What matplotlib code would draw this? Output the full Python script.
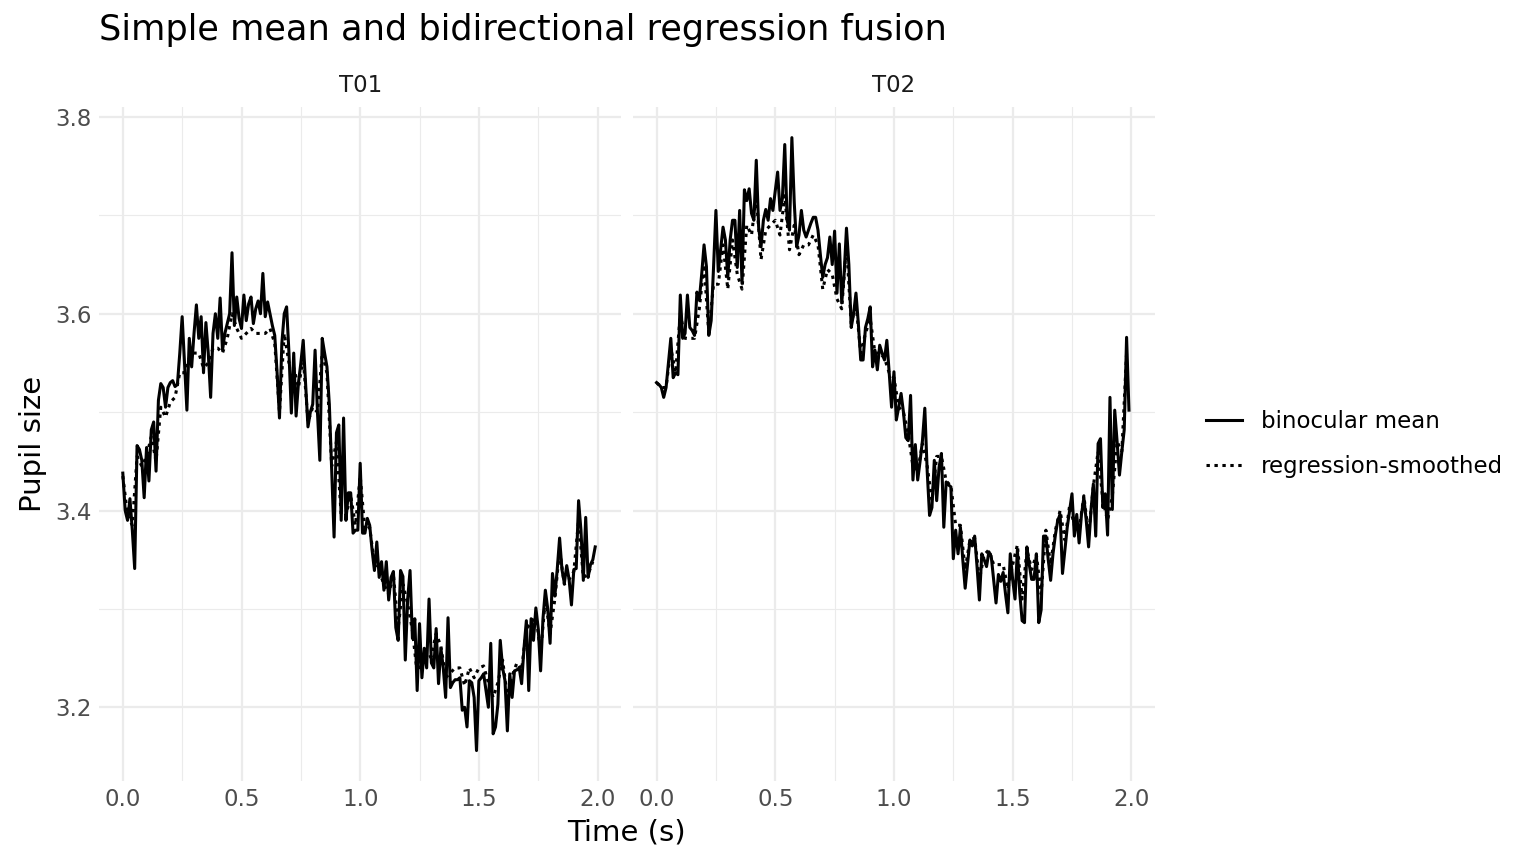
import numpy as np
import matplotlib
matplotlib.use("Agg")
import matplotlib.pyplot as plt
from matplotlib.lines import Line2D
from matplotlib.ticker import MultipleLocator, FormatStrFormatter

# time axis, 100 Hz for the mean, 50 Hz for the smoothed trace
time_mean = np.arange(200) / 100
time_smooth = np.arange(100) / 50

t01_mean = [
    3.438, 3.400, 3.390, 3.412, 3.380, 3.341, 3.466, 3.462, 3.451, 3.413,
    3.464, 3.430, 3.482, 3.490, 3.440, 3.512, 3.529, 3.525, 3.505, 3.525,
    3.530, 3.532, 3.526, 3.528, 3.560, 3.597, 3.550, 3.502, 3.575, 3.546,
    3.580, 3.609, 3.575, 3.597, 3.540, 3.591, 3.560, 3.515, 3.580, 3.600,
    3.575, 3.616, 3.563, 3.580, 3.590, 3.600, 3.662, 3.588, 3.617, 3.595,
    3.585, 3.619, 3.593, 3.610, 3.617, 3.590, 3.605, 3.613, 3.600, 3.641,
    3.597, 3.612, 3.600, 3.588, 3.578, 3.540, 3.494, 3.570, 3.600, 3.607,
    3.560, 3.499, 3.560, 3.496, 3.530, 3.550, 3.573, 3.530, 3.485, 3.500,
    3.508, 3.563, 3.500, 3.451, 3.575, 3.560, 3.546, 3.508, 3.440, 3.373,
    3.479, 3.487, 3.390, 3.494, 3.390, 3.418, 3.418, 3.377, 3.380, 3.380,
    3.448, 3.377, 3.377, 3.392, 3.385, 3.360, 3.339, 3.368, 3.332, 3.348,
    3.319, 3.348, 3.309, 3.332, 3.338, 3.281, 3.268, 3.339, 3.333, 3.248,
    3.310, 3.339, 3.270, 3.290, 3.217, 3.285, 3.230, 3.260, 3.240, 3.310,
    3.245, 3.240, 3.280, 3.224, 3.260, 3.240, 3.210, 3.291, 3.220, 3.225,
    3.228, 3.228, 3.230, 3.197, 3.200, 3.180, 3.227, 3.225, 3.210, 3.156,
    3.227, 3.230, 3.234, 3.217, 3.200, 3.265, 3.173, 3.180, 3.203, 3.268,
    3.240, 3.227, 3.176, 3.234, 3.210, 3.237, 3.238, 3.240, 3.224, 3.260,
    3.288, 3.217, 3.290, 3.268, 3.301, 3.280, 3.237, 3.290, 3.319, 3.300,
    3.265, 3.336, 3.313, 3.340, 3.372, 3.340, 3.326, 3.344, 3.330, 3.304,
    3.340, 3.341, 3.410, 3.380, 3.329, 3.393, 3.332, 3.345, 3.350, 3.363,
]

t01_smooth = [
    3.435, 3.395, 3.385, 3.455, 3.445, 3.455, 3.475, 3.450, 3.505, 3.495,
    3.510, 3.515, 3.540, 3.540, 3.555, 3.560, 3.560, 3.545, 3.550, 3.565,
    3.565, 3.560, 3.575, 3.600, 3.585, 3.575, 3.580, 3.585, 3.580, 3.580,
    3.580, 3.585, 3.570, 3.500, 3.580, 3.550, 3.545, 3.525, 3.555, 3.490,
    3.505, 3.500, 3.560, 3.540, 3.445, 3.470, 3.395, 3.395, 3.415, 3.385,
    3.435, 3.380, 3.383, 3.345, 3.338, 3.325, 3.315, 3.335, 3.280, 3.325,
    3.305, 3.278, 3.235, 3.245, 3.250, 3.252, 3.275, 3.262, 3.230, 3.235,
    3.240, 3.240, 3.222, 3.240, 3.230, 3.240, 3.242, 3.225, 3.210, 3.225,
    3.248, 3.210, 3.232, 3.245, 3.238, 3.280, 3.285, 3.295, 3.255, 3.310,
    3.275, 3.310, 3.360, 3.325, 3.330, 3.338, 3.390, 3.332, 3.335, 3.348,
]

t02_mean = [
    3.530, 3.528, 3.525, 3.515, 3.525, 3.550, 3.575, 3.535, 3.540, 3.538,
    3.619, 3.575, 3.580, 3.619, 3.586, 3.583, 3.578, 3.622, 3.614, 3.640,
    3.670, 3.648, 3.578, 3.593, 3.647, 3.705, 3.643, 3.665, 3.688, 3.675,
    3.637, 3.675, 3.695, 3.695, 3.647, 3.705, 3.631, 3.726, 3.715, 3.727,
    3.702, 3.695, 3.756, 3.688, 3.668, 3.695, 3.706, 3.695, 3.717, 3.705,
    3.725, 3.744, 3.705, 3.717, 3.772, 3.695, 3.685, 3.779, 3.713, 3.668,
    3.680, 3.705, 3.685, 3.678, 3.685, 3.692, 3.698, 3.698, 3.685, 3.660,
    3.637, 3.650, 3.657, 3.678, 3.650, 3.684, 3.621, 3.671, 3.611, 3.640,
    3.687, 3.650, 3.586, 3.600, 3.621, 3.590, 3.553, 3.553, 3.586, 3.595,
    3.607, 3.546, 3.563, 3.543, 3.568, 3.560, 3.553, 3.573, 3.540, 3.505,
    3.541, 3.492, 3.505, 3.519, 3.500, 3.474, 3.471, 3.517, 3.431, 3.467,
    3.431, 3.450, 3.471, 3.504, 3.440, 3.395, 3.403, 3.451, 3.410, 3.444,
    3.458, 3.383, 3.429, 3.426, 3.424, 3.351, 3.380, 3.356, 3.383, 3.350,
    3.321, 3.345, 3.370, 3.364, 3.374, 3.343, 3.309, 3.356, 3.350, 3.343,
    3.358, 3.353, 3.330, 3.306, 3.335, 3.328, 3.337, 3.315, 3.296, 3.356,
    3.330, 3.310, 3.360, 3.316, 3.288, 3.286, 3.363, 3.345, 3.330, 3.330,
    3.356, 3.286, 3.299, 3.374, 3.374, 3.350, 3.329, 3.356, 3.375, 3.390,
    3.396, 3.336, 3.360, 3.383, 3.400, 3.417, 3.374, 3.396, 3.367, 3.396,
    3.413, 3.390, 3.363, 3.400, 3.427, 3.374, 3.468, 3.473, 3.403, 3.417,
    3.375, 3.515, 3.401, 3.502, 3.470, 3.436, 3.460, 3.482, 3.576, 3.502,
]

t02_smooth = [
    3.530, 3.525, 3.525, 3.565, 3.540, 3.600, 3.575, 3.575, 3.575, 3.605,
    3.650, 3.580, 3.630, 3.630, 3.670, 3.625, 3.675, 3.640, 3.625, 3.690,
    3.680, 3.720, 3.655, 3.685, 3.690, 3.695, 3.680, 3.720, 3.665, 3.690,
    3.660, 3.670, 3.670, 3.680, 3.670, 3.625, 3.645, 3.640, 3.615, 3.605,
    3.670, 3.590, 3.610, 3.560, 3.580, 3.595, 3.560, 3.560, 3.555, 3.540,
    3.535, 3.505, 3.500, 3.478, 3.445, 3.440, 3.468, 3.445, 3.410, 3.455,
    3.455, 3.430, 3.425, 3.385, 3.385, 3.340, 3.370, 3.372, 3.330, 3.355,
    3.360, 3.345, 3.345, 3.345, 3.320, 3.345, 3.365, 3.310, 3.360, 3.340,
    3.355, 3.315, 3.380, 3.345, 3.380, 3.400, 3.370, 3.405, 3.385, 3.380,
    3.415, 3.375, 3.425, 3.460, 3.410, 3.390, 3.415, 3.470, 3.460, 3.560,
]

panels = ["T01", "T02"]
mean_series = [t01_mean, t02_mean]
smooth_series = [t01_smooth, t02_smooth]

plt.rcParams["font.family"] = ["DejaVu Sans"]

fig = plt.figure(figsize=(15.36, 8.64), dpi=100)
ax1 = fig.add_axes([0.0645, 0.096, 0.340, 0.780])
ax2 = fig.add_axes([0.412, 0.096, 0.340, 0.780], sharey=ax1)

dot_style = dict(linestyle=(0, (1.1, 1.5)), color="black", linewidth=2.2)
for ax, name, m, s in zip([ax1, ax2], panels, mean_series, smooth_series):
    ax.plot(time_smooth, s, **dot_style)
    ax.plot(time_mean, m, color="black", linewidth=2.2)
    ax.set_xlim(-0.1, 2.1)
    ax.set_ylim(3.125, 3.81)
    ax.xaxis.set_major_locator(MultipleLocator(0.5))
    ax.xaxis.set_minor_locator(MultipleLocator(0.25))
    ax.yaxis.set_major_locator(MultipleLocator(0.2))
    ax.yaxis.set_minor_locator(MultipleLocator(0.1))
    ax.grid(which="major", color="#EBEBEB", linewidth=1.6)
    ax.grid(which="minor", color="#EBEBEB", linewidth=0.8)
    ax.set_axisbelow(True)
    for sp in ax.spines.values():
        sp.set_visible(False)
    ax.tick_params(which="both", length=0, labelsize=16.5, labelcolor="#4D4D4D", pad=5)
    ax.xaxis.set_major_formatter(FormatStrFormatter("%.1f"))
    ax.set_title(name, fontsize=16.5, color="#1A1A1A", pad=11)

ax1.yaxis.set_major_formatter(FormatStrFormatter("%.1f"))
ax2.tick_params(axis="y", labelleft=False)
ax1.set_ylabel("Pupil size", fontsize=21, labelpad=6)
fig.text(0.408, 0.037, "Time (s)", fontsize=21, ha="center", va="center")
fig.text(0.0645, 0.965, "Simple mean and bidirectional regression fusion",
         fontsize=25.3, ha="left", va="center")

handles = [
    Line2D([], [], color="black", linewidth=2.2),
    Line2D([], [], **dot_style),
]
fig.legend(handles, ["binocular mean", "regression-smoothed"],
           loc="center left", bbox_to_anchor=(0.7715, 0.486), frameon=False,
           fontsize=16.5, handlelength=1.6, handletextpad=0.8, labelspacing=0.95)

fig.savefig("out.png", dpi=100, facecolor="white")
